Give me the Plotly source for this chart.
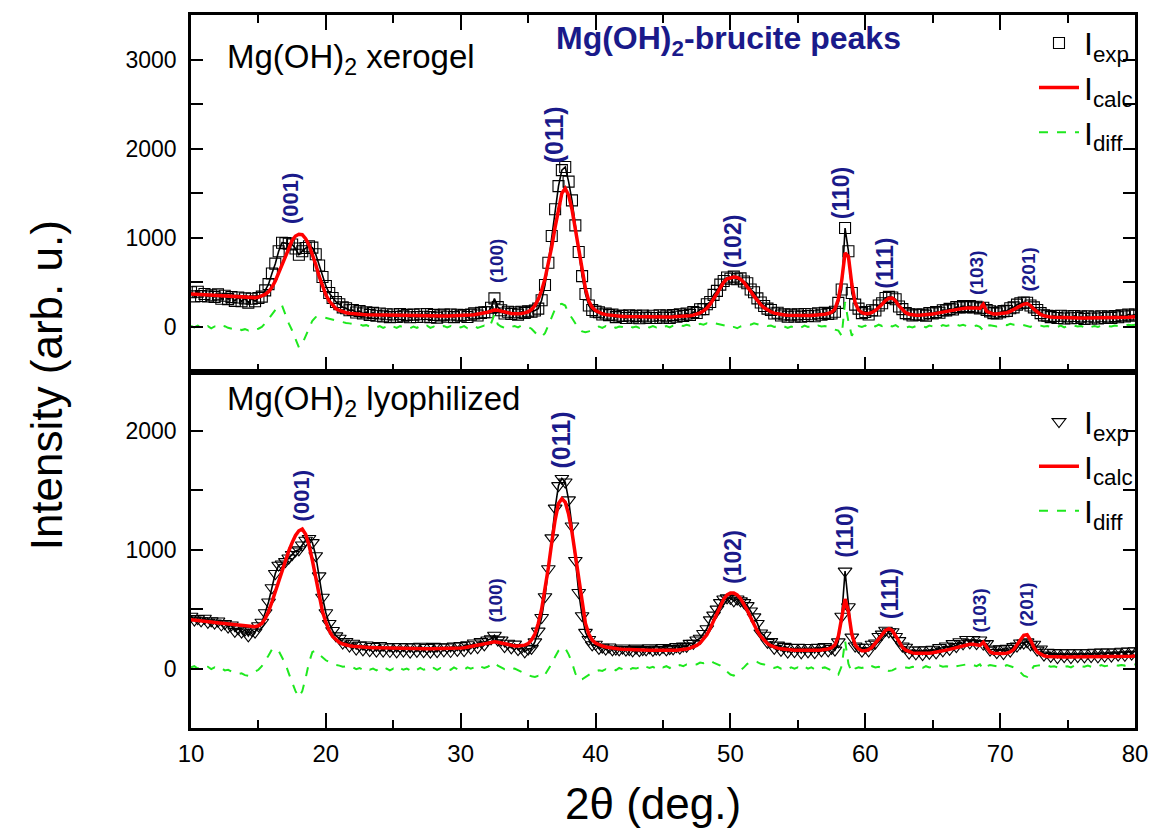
import plotly.graph_objects as go
from plotly.subplots import make_subplots

# 2-theta sampling grid (10..80 deg, 0.25 deg step)
two_theta = [10 + 0.25 * i for i in range(281)]

# ---------------- Mg(OH)2 xerogel (top panel) ----------------
top_exp = [
    390, 343, 395, 347, 370, 342, 355, 337, 365, 317, 350, 312, 335, 292, 330, 288,
    320, 273, 317, 289, 325, 340, 410, 480, 600, 710, 850, 945, 940, 935, 925, 880,
    810, 850, 885, 905, 890, 815, 690, 560, 460, 380, 325, 280, 255, 220, 210, 188,
    190, 162, 178, 150, 165, 135, 158, 125, 150, 118, 142, 110, 140, 113, 145, 118,
    135, 108, 138, 112, 142, 115, 146, 110, 135, 105, 128, 138, 114, 140, 110, 136,
    126, 134, 112, 138, 152, 128, 158, 165, 165, 215, 320, 222, 188, 150, 170, 145,
    163, 138, 170, 158, 175, 170, 185, 205, 300, 470, 720, 1020, 1320, 1580, 1760, 1795,
    1630, 1420, 1140, 840, 570, 370, 240, 190, 172, 165, 140, 150, 132, 140, 110, 128,
    123, 100, 130, 104, 124, 97, 127, 106, 101, 126, 100, 131, 105, 127, 102, 133,
    114, 141, 123, 151, 135, 167, 157, 198, 200, 255, 280, 360, 405, 475, 515, 555,
    540, 565, 535, 545, 510, 490, 420, 390, 320, 275, 235, 205, 190, 150, 160, 128,
    143, 115, 138, 117, 141, 116, 146, 122, 143, 120, 153, 137, 158, 145, 150, 170,
    270, 420, 1110, 850, 380, 250, 205, 155, 168, 140, 187, 185, 240, 265, 325, 337,
    330, 310, 230, 200, 155, 143, 128, 140, 137, 139, 127, 156, 151, 167, 160, 188,
    186, 203, 195, 222, 218, 233, 222, 235, 220, 227, 208, 215, 190, 175, 155, 150,
    165, 177, 180, 210, 220, 250, 265, 275, 272, 240, 220, 190, 155, 130, 125, 110,
    123, 101, 125, 94, 118, 97, 122, 101, 116, 90, 120, 95, 115, 95, 120, 101,
    116, 102, 123, 109, 130, 117, 139, 127, 140,
]
top_calc = [
    370, 368, 365, 362, 360, 357, 355, 352, 350, 347, 345, 342, 340, 337, 335, 333,
    330, 328, 327, 329, 335, 345, 365, 395, 445, 515, 605, 705, 810, 900, 970, 1020,
    1040, 1035, 990, 920, 820, 700, 570, 450, 360, 290, 240, 205, 185, 170, 160, 153,
    148, 145, 142, 140, 138, 137, 136, 135, 134, 133, 132, 131, 130, 130, 129, 129,
    128, 128, 127, 127, 126, 126, 125, 125, 125, 124, 124, 124, 124, 124, 125, 125,
    126, 128, 130, 133, 137, 142, 148, 155, 165, 178, 190, 188, 178, 165, 155, 150,
    148, 148, 150, 158, 170, 195, 240, 310, 410, 540, 700, 900, 1120, 1330, 1500, 1555,
    1480, 1320, 1100, 860, 620, 430, 290, 220, 185, 162, 148, 138, 132, 127, 123, 120,
    118, 116, 115, 114, 113, 112, 112, 111, 111, 111, 111, 111, 111, 112, 112, 113,
    114, 116, 118, 121, 125, 132, 142, 158, 180, 210, 255, 310, 375, 440, 500, 540,
    555, 560, 555, 535, 500, 455, 400, 345, 295, 250, 215, 190, 170, 155, 145, 138,
    133, 130, 128, 127, 126, 126, 126, 127, 128, 130, 133, 137, 143, 150, 165, 200,
    310, 520, 830, 790, 480, 270, 190, 160, 148, 150, 162, 185, 215, 255, 295, 322,
    325, 290, 235, 190, 160, 143, 135, 132, 132, 134, 137, 141, 146, 152, 160, 168,
    176, 183, 190, 197, 203, 208, 212, 215, 215, 212, 208, 255, 175, 155, 145, 145,
    150, 152, 160, 175, 195, 215, 235, 255, 262, 240, 200, 165, 140, 125, 115, 110,
    108, 106, 105, 104, 103, 102, 102, 101, 101, 100, 100, 100, 100, 100, 100, 101,
    101, 102, 103, 104, 105, 107, 109, 112, 115,
]
top_diff = [
    10, -5, 15, 0, -10, 10, -15, 5, 0, -15, 10, -10, -20, -30, -15, -35,
    -25, -40, -20, -30, -20, 0, 40, 90, 150, 200, 240, 240, 130, 40, -40, -140,
    -230, -190, -100, -10, 70, 110, 120, 110, 100, 90, 85, 75, 65, 55, 45, 40,
    35, 25, 30, 15, 20, 5, 15, -5, 10, -10, 5, -15, 5, -10, 10, -5,
    0, -15, 5, -10, 10, -5, 15, -10, 5, -15, 0, 10, -5, 10, -10, 5,
    -5, 10, -15, 0, 10, -10, 5, 15, -5, 40, 140, 30, 5, -10, 10, 0,
    10, -5, 15, 5, 0, -20, -60, -100, -110, -70, 20, 120, 200, 250, 260, 240,
    150, 100, 40, -20, -50, -60, -50, -30, -15, 5, -10, 10, -5, 10, -10, 5,
    0, -10, 10, -5, 5, -10, 10, 0, -5, 10, -5, 15, 0, 10, -5, 15,
    5, 20, 10, 25, 15, 30, 20, 35, 25, 40, 30, 45, 35, 30, 20, 10,
    -10, 0, -15, 5, 15, 30, 25, 40, 30, 20, 25, 10, 15, 0, 10, -5,
    5, -10, 5, -5, 10, -5, 15, 0, 10, -5, 15, 5, 10, 0, -10, -30,
    -40, -100, 280, 60, -100, -20, 10, 0, 15, -5, 20, 5, 25, 10, 30, 15,
    5, 20, -5, 10, -10, 5, -5, 10, 0, 10, -5, 15, 5, 15, 0, 20,
    10, 20, 5, 25, 15, 25, 10, 20, 5, 15, 0, -40, 15, 20, 10, 5,
    15, 25, 20, 35, 25, 35, 30, 20, 10, 0, 20, 25, 15, 5, 10, 0,
    10, 0, 15, -5, 10, 0, 15, 5, 10, -5, 15, 0, 10, 0, 15, 5,
    10, 5, 15, 10, 20, 15, 25, 20, 25,
]

# ---------------- Mg(OH)2 lyophilized (bottom panel) ----------------
bot_exp = [
    440, 408, 420, 402, 423, 390, 402, 383, 400, 367, 378, 350, 367, 313, 335, 307,
    323, 275, 322, 307, 360, 390, 470, 560, 680, 800, 870, 880, 900, 930, 960, 990,
    1000, 1040, 1080, 1095, 1060, 950, 780, 600, 470, 380, 320, 275, 255, 215, 228, 190,
    213, 165, 197, 157, 198, 152, 186, 147, 194, 148, 182, 144, 186, 141, 185, 147,
    184, 139, 183, 145, 188, 142, 177, 139, 187, 142, 182, 150, 183, 144, 190, 153,
    193, 151, 200, 172, 215, 176, 227, 200, 240, 250, 280, 240, 240, 185, 213, 175,
    206, 160, 177, 140, 165, 170, 225, 315, 430, 605, 840, 1100, 1350, 1540, 1600, 1570,
    1420, 1200, 910, 640, 445, 305, 245, 200, 205, 170, 180, 165, 181, 157, 163, 158,
    173, 156, 160, 150, 172, 151, 160, 157, 174, 154, 163, 160, 178, 158, 168, 166,
    185, 172, 190, 187, 212, 212, 240, 255, 295, 335, 410, 450, 500, 555, 585, 595,
    590, 570, 585, 570, 555, 530, 485, 435, 380, 300, 280, 220, 227, 170, 197, 153,
    187, 139, 177, 142, 179, 133, 178, 140, 178, 134, 180, 149, 185, 150, 170, 155,
    225, 440, 820, 520, 265, 190, 180, 148, 180, 150, 205, 215, 270, 290, 322, 310,
    310, 270, 235, 190, 180, 130, 157, 125, 157, 117, 158, 128, 163, 132, 177, 150,
    190, 162, 210, 185, 226, 209, 245, 216, 245, 210, 240, 205, 210, 155, 165, 135,
    166, 127, 170, 148, 185, 190, 215, 215, 225, 200, 205, 155, 165, 113, 137, 102,
    134, 93, 133, 100, 133, 93, 133, 100, 133, 98, 133, 100, 138, 98, 139, 106,
    139, 105, 140, 113, 146, 112, 148, 121, 150,
]
bot_calc = [
    410, 408, 405, 402, 398, 395, 392, 388, 385, 382, 378, 375, 372, 368, 365, 362,
    358, 355, 352, 352, 360, 380, 420, 480, 560, 650, 740, 830, 910, 990, 1060, 1120,
    1160, 1175, 1130, 1040, 910, 760, 610, 480, 390, 320, 270, 240, 220, 207, 198, 192,
    188, 185, 182, 180, 178, 177, 176, 175, 174, 173, 172, 172, 171, 171, 170, 170,
    169, 169, 168, 168, 168, 167, 167, 167, 167, 167, 167, 168, 168, 169, 170, 171,
    173, 176, 180, 185, 190, 196, 202, 208, 214, 220, 225, 222, 215, 205, 198, 193,
    191, 190, 192, 197, 210, 240, 290, 380, 500, 660, 850, 1060, 1250, 1390, 1430, 1400,
    1300, 1150, 950, 730, 530, 380, 290, 240, 215, 200, 190, 182, 176, 172, 168, 165,
    163, 161, 160, 158, 157, 156, 155, 155, 154, 154, 153, 153, 153, 153, 153, 154,
    155, 157, 160, 165, 172, 182, 195, 215, 245, 285, 340, 400, 460, 530, 585, 620,
    635, 635, 620, 590, 545, 490, 430, 370, 315, 270, 235, 210, 192, 180, 172, 166,
    162, 159, 157, 155, 154, 153, 153, 153, 153, 154, 155, 157, 160, 165, 175, 200,
    270, 420, 585, 480, 290, 200, 165, 150, 150, 160, 180, 215, 250, 290, 322, 335,
    320, 275, 220, 180, 155, 140, 132, 128, 127, 127, 128, 130, 133, 137, 142, 148,
    155, 162, 170, 178, 186, 194, 200, 204, 205, 200, 195, 222, 175, 140, 130, 127,
    126, 127, 130, 140, 160, 195, 240, 280, 285, 240, 180, 140, 120, 108, 102, 100,
    99, 98, 98, 98, 98, 98, 98, 98, 98, 98, 98, 98, 98, 98, 99, 99,
    99, 100, 100, 101, 101, 102, 103, 104, 106,
]
bot_diff = [
    10, 20, 0, 15, 5, 15, -5, 10, -5, 5, -15, -10, -25, -35, -45, -40,
    -55, -60, -45, -30, -10, 20, 60, 110, 160, 170, 150, 100, 40, -40, -120, -190,
    -240, -190, -80, 50, 140, 150, 120, 95, 70, 55, 40, 30, 25, 15, 20, 5,
    10, -5, 5, -10, 5, -10, 0, -15, 5, -10, 0, -15, 0, -15, 5, -10,
    0, -15, 5, -10, 5, -10, 0, -15, 5, -10, 5, -5, 0, -10, 10, -5,
    5, -10, 10, 0, 10, -5, 15, 5, 15, 35, 50, 25, 10, -5, 5, -5,
    0, -15, -25, -45, -55, -65, -70, -60, -73, -50, -10, 40, 100, 150, 175, 170,
    120, 50, -40, -95, -90, -70, -50, -35, -25, -15, -20, -5, -10, 0, -15, 5,
    -5, 10, -10, 5, 0, 10, -5, 15, 5, 15, 0, 20, 10, 20, 5, 25,
    15, 30, 20, 35, 30, 40, 35, 50, 45, 55, 67, 50, 40, 25, 0, -25,
    -50, -59, -40, -15, 10, 40, 55, 65, 55, 40, 35, 20, 20, 5, 15, 0,
    10, -5, 10, 0, 10, -5, 15, 0, 10, -5, 15, 5, 10, 0, -15, -35,
    -50, 20, 235, 40, -30, 0, 10, 5, 15, 0, 20, 10, 15, 5, 0, -20,
    -15, 0, 10, 15, 10, 5, 15, 10, 15, 5, 20, 10, 15, 10, 25, 15,
    20, 15, 30, 20, 25, 30, 35, 25, 30, 20, 35, -5, 20, 30, 25, 20,
    25, 15, 30, 20, 15, 0, -30, -60, -70, -30, 20, 25, 30, 20, 25, 15,
    20, 10, 25, 15, 20, 10, 25, 15, 20, 15, 25, 15, 25, 15, 30, 20,
    25, 20, 30, 25, 30, 25, 35, 30, 35,
]

for arr in (top_exp, top_calc, top_diff, bot_exp, bot_calc, bot_diff):
    assert len(arr) == len(two_theta), len(arr)

# ---------------- peak labels ----------------
peak_labels = ["(001)", "(100)", "(011)", "(102)", "(110)", "(111)", "(103)", "(201)"]
peak_font_sizes = [22, 19, 25, 23, 23, 23, 19, 19]
top_label_x = [17.4, 32.6, 36.9, 50.2, 58.2, 61.5, 68.2, 72.1]
top_label_y = [1443, 738, 2159, 962, 1500, 716, 605, 649]
bot_label_x = [18.2, 32.6, 37.4, 50.2, 58.5, 61.8, 68.5, 72.0]
bot_label_y = [1454, 571, 1924, 941, 1151, 630, 487, 538]

x_tick_vals = [10, 20, 30, 40, 50, 60, 70, 80]
top_y_ticks = [0, 1000, 2000, 3000]
bot_y_ticks = [0, 1000, 2000]

NAVY = "#1a1a8a"
GREEN = "#1ee81e"
SANS = "Liberation Sans, Arial, Helvetica, sans-serif"

fig = make_subplots(rows=2, cols=1, shared_xaxes=True, vertical_spacing=0)


def add_panel(row, exp, calc, diff, symbol, size, legend_id):
    # connecting trace under the dense experimental points (same data)
    fig.add_trace(go.Scatter(x=two_theta, y=exp, mode="lines", showlegend=False, hoverinfo="skip",
                             line=dict(color="black", width=1.6), legend=legend_id), row=row, col=1)
    fig.add_trace(go.Scatter(x=two_theta, y=exp, mode="markers", name="I<sub>exp</sub>",
                             marker=dict(symbol=symbol, size=size, color="black", line=dict(width=1.1)),
                             legend=legend_id), row=row, col=1)
    fig.add_trace(go.Scatter(x=two_theta, y=calc, mode="lines", name="I<sub>calc</sub>",
                             line=dict(color="#ff0000", width=3.5), legend=legend_id), row=row, col=1)
    fig.add_trace(go.Scatter(x=two_theta, y=diff, mode="lines", name="I<sub>diff</sub>",
                             line=dict(color=GREEN, width=2, dash="dash"), legend=legend_id), row=row, col=1)


add_panel(1, top_exp, top_calc, top_diff, "square-open", 11, "legend")
add_panel(2, bot_exp, bot_calc, bot_diff, "triangle-down-open", 12, "legend2")

axis_common = dict(showline=True, linewidth=2.5, linecolor="black", showgrid=False, zeroline=False,
                   ticks="inside", tickcolor="black", tickwidth=2)

fig.update_xaxes(range=[10, 80], tickvals=x_tick_vals, ticklen=15,
                 minor=dict(dtick=5, tick0=10, ticks="inside", ticklen=8, tickwidth=2,
                            tickcolor="black", showgrid=False),
                 **axis_common)
fig.update_xaxes(showticklabels=False, mirror="ticks", row=1, col=1)
fig.update_xaxes(showticklabels=True, mirror=True, ticklabelstandoff=2,
                 tickfont=dict(family=SANS, size=24, color="black"), row=2, col=1)

fig.update_yaxes(ticklen=12, mirror="ticks", ticklabelstandoff=7,
                 tickfont=dict(family=SANS, size=23, color="black"),
                 minor=dict(dtick=500, tick0=0, ticks="inside", ticklen=12, tickwidth=2,
                            tickcolor="black", showgrid=False),
                 **axis_common)
fig.update_yaxes(range=[-500, 3500], tickvals=top_y_ticks, row=1, col=1)
fig.update_yaxes(range=[-500, 2500], tickvals=bot_y_ticks, row=2, col=1)

annotations = []
for lab, fs, xv, yv in zip(peak_labels, peak_font_sizes, top_label_x, top_label_y):
    annotations.append(dict(x=xv, y=yv, xref="x", yref="y", text="<b>%s</b>" % lab, textangle=-90,
                            showarrow=False, font=dict(family=SANS, size=fs, color=NAVY)))
for lab, fs, xv, yv in zip(peak_labels, peak_font_sizes, bot_label_x, bot_label_y):
    annotations.append(dict(x=xv, y=yv, xref="x2", yref="y2", text="<b>%s</b>" % lab, textangle=-90,
                            showarrow=False, font=dict(family=SANS, size=fs, color=NAVY)))

annotations += [
    dict(x=0.036, y=0.9385, xref="paper", yref="paper", xanchor="left", yanchor="middle",
         text="Mg(OH)<sub>2</sub> xerogel", showarrow=False,
         font=dict(family=SANS, size=33, color="black")),
    dict(x=0.036, y=0.458, xref="paper", yref="paper", xanchor="left", yanchor="middle",
         text="Mg(OH)<sub>2</sub> lyophilized", showarrow=False,
         font=dict(family=SANS, size=33, color="black")),
    dict(x=0.569, y=0.964, xref="paper", yref="paper", xanchor="center", yanchor="middle",
         text="<b>Mg(OH)<sub>2</sub>-brucite peaks</b>", showarrow=False,
         font=dict(family=SANS, size=32, color=NAVY)),
    dict(x=-0.153, y=0.48, xref="paper", yref="paper", xanchor="center", yanchor="middle",
         text="Intensity (arb. u.)", textangle=-90, showarrow=False,
         font=dict(family=SANS, size=44, color="black")),
    dict(x=0.489, y=-0.106, xref="paper", yref="paper", xanchor="center", yanchor="middle",
         text="2\u03b8 (deg.)", showarrow=False,
         font=dict(family=SANS, size=44, color="black")),
]

legend_style = dict(font=dict(family=SANS, size=32, color="black"), bgcolor="rgba(0,0,0,0)",
                    borderwidth=0, xanchor="left", yanchor="top", itemwidth=40, tracegroupgap=0)

fig.update_layout(
    width=1160, height=838,
    margin=dict(l=191, r=18, t=12, b=110),
    paper_bgcolor="white", plot_bgcolor="white",
    font=dict(family=SANS, color="black"),
    showlegend=True,
    legend=dict(x=0.893, y=0.999, **legend_style),
    legend2=dict(x=0.893, y=0.468, **legend_style),
    annotations=annotations,
)

fig.write_html("out.html")
